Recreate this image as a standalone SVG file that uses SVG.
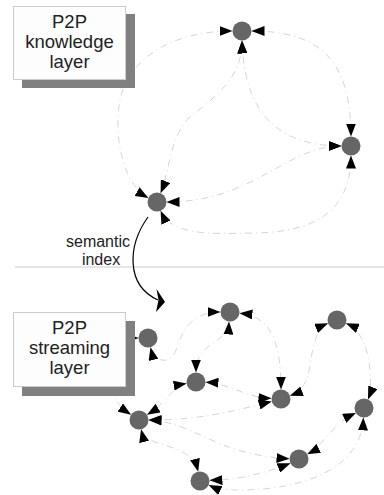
<svg xmlns="http://www.w3.org/2000/svg" width="384" height="495" viewBox="0 0 384 495">
<style>
.e{fill:none;stroke:#d6d6d6;stroke-width:1;stroke-dasharray:7 4 1 4;marker-start:url(#ah);marker-end:url(#ah)}
.n{fill:#666666}
.box{fill:#fdfdfd;stroke:#cccccc;stroke-width:1}
.sh{fill:#808080}
.t{font-family:"Liberation Sans",Arial,sans-serif;font-size:18.5px;fill:#222;text-anchor:middle}
.s{font-family:"Liberation Sans",Arial,sans-serif;font-size:16px;fill:#222;text-anchor:middle}
</style>
<defs>
<marker id="ah" viewBox="0 0 13 10" refX="13" refY="5" markerWidth="13" markerHeight="10" markerUnits="userSpaceOnUse" orient="auto-start-reverse">
<path d="M0,0 L13,5 L0,10 z" fill="#000"/>
</marker>
</defs>
<rect width="384" height="495" fill="#ffffff"/>
<line x1="15" y1="267" x2="384" y2="267" stroke="#cccccc" stroke-width="1"/>
<g id="connectors">
<path class="e" d="M148.4,198 C120,182 114,130 120,100 C128,60 170,31 232.5,31"/>
<path class="e" d="M251.5,31 C320,31 351,60 351,136.5"/>
<path class="e" d="M242,40.5 C243,80 210,100 190,117 C170,135 170,170 160.6,193.2"/>
<path class="e" d="M242,40.5 C244,110 275,146 341.5,146"/>
<path class="e" d="M341.5,146 C285,146 255,202 166.5,202"/>
<path class="e" d="M351,155.5 C351,215 310,232 255,233 C210,234 172,236 160.6,210.8"/>
<path class="e" d="M138.5,338 C110,338 105,380 115,398 C119,405 124,410 131.1,414.7"/>
<path class="e" d="M150.5,347.2 C154,362 170,366 176,350 C182,332 190,312 220.5,312"/>
<path class="e" d="M229,321.5 C228,345 196,340 196,372.5"/>
<path class="e" d="M239.4,313.3 C270,316 281,340 281,389.5"/>
<path class="e" d="M328.1,323.3 C312,330 312,360 308,375 C305,385 300,392 289.9,395.8"/>
<path class="e" d="M345.9,323.3 C362,330 368,350 370,370 C371,385 371,392 368,399.4"/>
<path class="e" d="M186.6,383.6 C172,386 168,402 147,414.8"/>
<path class="e" d="M205.5,382.3 C230,383 245,398 271.5,398.2"/>
<path class="e" d="M148.5,420 C200,420 230,412 271.8,401.5"/>
<path class="e" d="M148.5,420 C195,422 215,455 289.5,458.7"/>
<path class="e" d="M141.1,429.3 C146,450 190,440 198.2,471.7"/>
<path class="e" d="M290.5,463.3 C260,475 235,480 209.5,480.2"/>
<path class="e" d="M307.2,454.3 C325,445 330,425 355.9,412.9"/>
<path class="e" d="M363.3,417.5 C362,470 300,490 240,490 C225,490 215,488 208.6,485"/>
</g>
<g id="semantic-index">
<path d="M148,217 C128,245 125,285 158,300" fill="none" stroke="#000" stroke-width="1.2"/>
<path d="M156.5,289 L165,302 L156,312 L158.5,300 Z" fill="#000"/>
<text class="s" x="98" y="247">semantic</text>
<text class="s" x="101" y="265">index</text>
</g>
<g id="label-knowledge">
<rect class="sh" x="22" y="14" width="113" height="74"/>
<rect class="box" x="13.5" y="6.5" width="112" height="73"/>
<text class="t" x="69.5" y="28">P2P</text>
<text class="t" x="69.5" y="48">knowledge</text>
<text class="t" x="69.5" y="68">layer</text>
</g>
<g id="label-streaming">
<rect class="sh" x="22" y="321" width="113" height="75"/>
<rect class="box" x="13.5" y="312.5" width="112" height="74"/>
<text class="t" x="69.5" y="334">P2P</text>
<text class="t" x="69.5" y="354">streaming</text>
<text class="t" x="69.5" y="374">layer</text>
</g>
<g id="node-A"><circle class="n" cx="242" cy="31" r="9.5"/></g>
<g id="node-B"><circle class="n" cx="351" cy="146" r="9.5"/></g>
<g id="node-C"><circle class="n" cx="157" cy="202" r="9.5"/></g>
<g id="node-D"><circle class="n" cx="148" cy="338" r="9.5"/></g>
<g id="node-E"><circle class="n" cx="230" cy="312" r="9.5"/></g>
<g id="node-F"><circle class="n" cx="337" cy="320" r="9.5"/></g>
<g id="node-G"><circle class="n" cx="196" cy="382" r="9.5"/></g>
<g id="node-H"><circle class="n" cx="281" cy="399" r="9.5"/></g>
<g id="node-I"><circle class="n" cx="139" cy="420" r="9.5"/></g>
<g id="node-J"><circle class="n" cx="364" cy="408" r="9.5"/></g>
<g id="node-K"><circle class="n" cx="299" cy="459" r="9.5"/></g>
<g id="node-L"><circle class="n" cx="200" cy="481" r="9.5"/></g>
</svg>
